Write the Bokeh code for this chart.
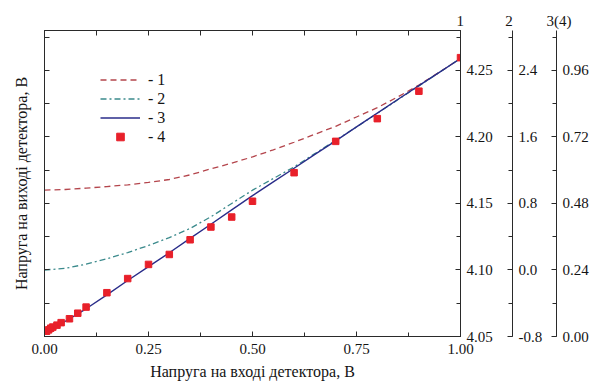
from bokeh.plotting import figure
from bokeh.models import (LinearAxis, Range1d, SingleIntervalTicker, PrintfTickFormatter,
                          CustomJSTickFormatter, Legend, LegendItem)
from bokeh.embed import file_html
from bokeh.resources import INLINE

# ---- data ----
x_curve = [0.0, 0.05, 0.1, 0.15, 0.2, 0.25, 0.3, 0.35, 0.4, 0.45, 0.5, 0.55, 0.6, 0.65, 0.7, 0.75, 0.8, 0.85, 0.9, 0.95, 1.0]
curve1 = [4.160, 4.1605, 4.1615, 4.1627, 4.164, 4.1658, 4.168, 4.1715, 4.176, 4.1803, 4.185, 4.1903, 4.196, 4.202, 4.208, 4.215, 4.222, 4.2302, 4.239, 4.2488, 4.259]   # axis "1"
curve2 = [0.0, 0.02, 0.07, 0.135, 0.21, 0.295, 0.39, 0.50, 0.64, 0.80, 0.96, 1.10, 1.24, 1.40, 1.56, 1.72, 1.885, 2.05, 2.215, 2.38, 2.545]             # axis "2"
curve3 = [0.018, 0.055, 0.100, 0.150, 0.202, 0.252, 0.302, 0.354, 0.405, 0.457, 0.508, 0.558, 0.607, 0.657, 0.706, 0.756, 0.806, 0.856, 0.905, 0.954, 1.003]  # axis "3(4)"
x_points = [0.005, 0.01, 0.015, 0.02, 0.03, 0.04, 0.06, 0.08, 0.1, 0.15, 0.2, 0.25, 0.3, 0.35, 0.4, 0.45, 0.5, 0.6, 0.7, 0.8, 0.9, 1.0]
points4 = [0.019, 0.024, 0.030, 0.034, 0.041, 0.050, 0.064, 0.084, 0.106, 0.158, 0.209, 0.260, 0.296, 0.349, 0.395, 0.431, 0.488, 0.591, 0.704, 0.786, 0.885, 1.006]  # axis "3(4)"

x_label = "Напруга на вході детектора, В"
y_label = "Напруга на виході детектора, В"
axis_titles = ["1", "2", "3(4)"]
legend_labels = ["- 1", "- 2", "- 3", "- 4"]

FONT = "Liberation Serif"
AX = "#2a2a2a"
TXT = "#141414"
NB = "\u00a0"

p = figure(frame_width=416, frame_height=306, output_backend="svg", toolbar_location=None,
           x_range=Range1d(0, 1), y_range=Range1d(4.05, 4.28),
           min_border_left=44, min_border_top=30, min_border_right=0, min_border_bottom=0,
           background_fill_color="white", border_fill_color="white")
p.extra_y_ranges = {"a2": Range1d(-0.8, 2.881), "a3": Range1d(0.0, 1.104)}
p.grid.visible = False
p.outline_line_color = AX
p.outline_line_width = 1


def style(ax, font_size="15px"):
    ax.axis_line_color = AX
    ax.major_tick_line_color = AX
    ax.minor_tick_line_color = AX
    ax.major_tick_in = 5
    ax.major_tick_out = 0
    ax.minor_tick_in = 4
    ax.minor_tick_out = 0
    ax.major_label_text_font = FONT
    ax.major_label_text_font_size = font_size
    ax.major_label_text_color = TXT
    ax.axis_label_text_font = FONT
    ax.axis_label_text_font_style = "normal"
    ax.axis_label_text_color = TXT


# bottom axis
xa = p.xaxis[0]
style(xa)
xa.ticker = SingleIntervalTicker(interval=0.25, num_minor_ticks=2)
xa.formatter = PrintfTickFormatter(format="%.2f")
xa.major_label_standoff = 7
xa.axis_label = x_label
xa.axis_label_text_font_size = "16px"
xa.axis_label_standoff = 6

# left axis (ticks only)
ya = p.yaxis[0]
style(ya, "0px")
ya.ticker = SingleIntervalTicker(interval=0.025, num_minor_ticks=0)
ya.formatter = CustomJSTickFormatter(code="return ''")
ya.major_label_standoff = 0
ya.axis_label = y_label
ya.axis_label_text_font_size = "16px"
ya.axis_label_standoff = 15

# top axis (ticks only)
top = LinearAxis(ticker=SingleIntervalTicker(interval=0.125, num_minor_ticks=0),
                 formatter=CustomJSTickFormatter(code="return ''"))
style(top, "0px")
top.major_label_standoff = 0
p.add_layout(top, "above")

# right axes
r1 = LinearAxis(ticker=SingleIntervalTicker(interval=0.05, num_minor_ticks=2),
                formatter=PrintfTickFormatter(format="%.2f"))
r2 = LinearAxis(y_range_name="a2", ticker=SingleIntervalTicker(interval=0.8, num_minor_ticks=2),
                formatter=PrintfTickFormatter(format="%.1f"))
r3 = LinearAxis(y_range_name="a3", ticker=SingleIntervalTicker(interval=0.24, num_minor_ticks=2),
                formatter=PrintfTickFormatter(format="%.2f"))
for ax, pad in ((r1, 13), (r2, 7), (r3, None)):
    style(ax)
    ax.major_label_standoff = 6
    if pad is not None:
        ax.axis_label = NB
        ax.axis_label_text_font_size = "1px"
        ax.axis_label_standoff = pad
    p.add_layout(ax, "right")

# titles of the three right axes ("1", "2", "3(4)")
p.title.text = axis_titles[0] + NB * 11 + axis_titles[1] + NB * 9 + axis_titles[2]
p.title.align = "left"
p.title.offset = 412
p.title.standoff = 4
p.title.text_font = FONT
p.title.text_font_style = "normal"
p.title.text_font_size = "15px"
p.title.text_color = TXT

# curves
l1 = p.line(x_curve, curve1, line_color="#b4454c", line_width=1.3, line_dash="6 4")
l2 = p.line(x_curve, curve2, y_range_name="a2", line_color="#3b8a8c", line_width=1.3, line_dash="6 3 2 3")
l3 = p.line(x_curve, curve3, y_range_name="a3", line_color="#2a2d8a", line_width=1.4)
s4 = p.scatter(x_points, points4, y_range_name="a3", marker="square", size=6.5,
               fill_color="#e8202a", line_color="#e8202a")

legend = Legend(items=[LegendItem(label=legend_labels[0], renderers=[l1]),
                       LegendItem(label=legend_labels[1], renderers=[l2]),
                       LegendItem(label=legend_labels[2], renderers=[l3]),
                       LegendItem(label=legend_labels[3], renderers=[s4])],
                location=(56, 190), glyph_width=40, glyph_height=19, label_height=19,
                spacing=0, padding=0, margin=0, label_standoff=8,
                border_line_color=None, background_fill_alpha=0,
                label_text_font=FONT, label_text_font_size="16px", label_text_color=TXT)
p.add_layout(legend)

open("out.html", "w").write(file_html(p, INLINE))
